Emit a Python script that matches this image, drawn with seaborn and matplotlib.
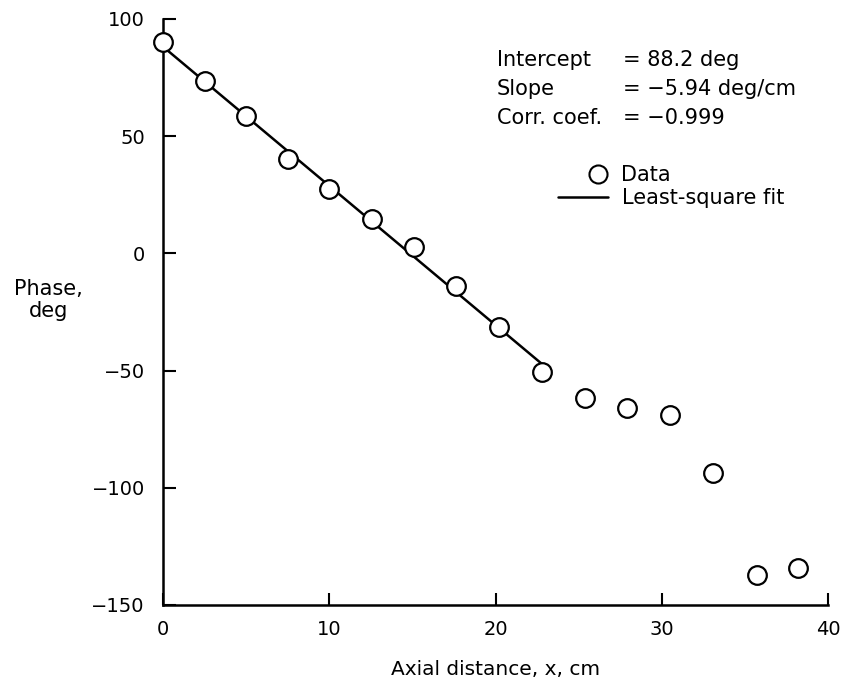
import numpy as np
import pandas as pd
import matplotlib
matplotlib.use("Agg")
import matplotlib.pyplot as plt
from matplotlib.lines import Line2D
import seaborn as sns

distancia = [0.0, 2.5, 5.0, 7.5, 10.0, 12.6, 15.1, 17.6, 20.2, 22.8,
             25.4, 27.9, 30.5, 33.1, 35.7, 38.2]
fase = [90.2, 73.5, 58.6, 40.3, 27.5, 14.7, 2.7, -13.9, -31.4, -50.6,
        -61.7, -66.0, -68.9, -93.7, -137.2, -134.2]

# reta de minimos quadrados (intercepto 88.2, inclinacao -5.94)
ajuste_x = [0.0, 22.8]
ajuste_y = [88.2, -47.2]

x_ticks = [0, 10, 20, 30, 40]
y_ticks = [-150, -100, -50, 0, 50, 100]

sns.set_style("ticks")
plt.rcParams['font.family'] = ['DejaVu Sans']
plt.rcParams['text.color'] = 'black'
plt.rcParams['axes.labelcolor'] = 'black'

df = pd.DataFrame({'x': distancia, 'fase': fase})
df_fit = pd.DataFrame({'x': ajuste_x, 'fase': ajuste_y})

W, H = 846, 689
fig = plt.figure(figsize=(8.46, 6.89), dpi=100)
ax = fig.add_axes([163 / W, 84 / H, 665 / W, 586 / H])

sns.lineplot(data=df_fit, x='x', y='fase', ax=ax, color='black', lw=1.8)
sns.scatterplot(data=df, x='x', y='fase', ax=ax, s=180, facecolor='white',
                edgecolor='black', linewidth=1.6, zorder=3, clip_on=False)

ax.set_xlim(0, 40)
ax.set_ylim(-150, 100)
ax.set_xticks(x_ticks)
ax.set_yticks(y_ticks)
ax.tick_params(direction='in', length=9, width=1.5, labelsize=14, colors='black')
ax.tick_params(axis='y', pad=13)
ax.tick_params(axis='x', pad=11)
for s in ['left', 'bottom']:
    ax.spines[s].set_linewidth(1.8)
    ax.spines[s].set_color('black')
sns.despine(ax=ax)

ax.set_xlabel('Axial distance, x, cm', fontsize=14.5, labelpad=15)
ax.set_ylabel('Phase,\ndeg', fontsize=15, rotation=0, ha='center', va='center',
              linespacing=1.1)
ax.yaxis.set_label_coords(-0.172, 0.52)

# texto com os resultados do ajuste
linhas = [('Intercept', '= 88.2 deg'), ('Slope', '= \u22125.94 deg/cm'),
          ('Corr. coef.', '= \u22120.999')]
for i, (a, b) in enumerate(linhas):
    yy = 1 - (60 + 29 * i) / H
    fig.text(497 / W, yy, a, fontsize=15, va='center')
    fig.text(623 / W, yy, b, fontsize=15, va='center')

# legenda em duas partes para posicionar o marcador como no original
h_data = Line2D([], [], marker='o', ls='none', mfc='white', mec='black',
                ms=13, mew=1.5, label='Data')
h_fit = Line2D([], [], color='black', lw=1.8, label='Least-square fit')
fig.legend(handles=[h_data], loc='center left', bbox_to_anchor=(588 / W, 1 - 175 / H),
           frameon=False, fontsize=15, handlelength=1.0, handletextpad=0.6,
           borderaxespad=0, borderpad=0)
fig.legend(handles=[h_fit], loc='center left', bbox_to_anchor=(558 / W, 1 - 198 / H),
           frameon=False, fontsize=15, handlelength=2.4, handletextpad=0.67,
           borderaxespad=0, borderpad=0)

fig.savefig('out.png', dpi=100)
